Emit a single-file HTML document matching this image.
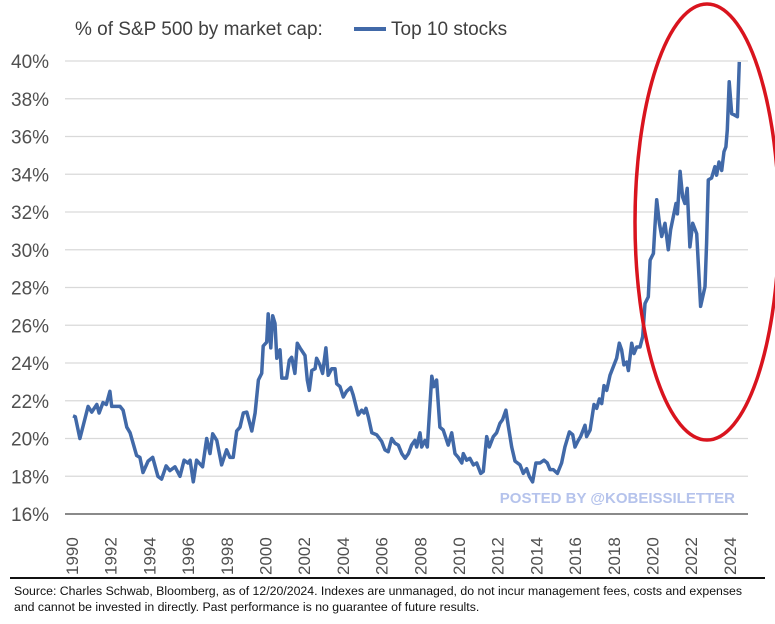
<!DOCTYPE html>
<html><head><meta charset="utf-8"><style>
body{margin:0;background:#fff;width:775px;height:624px;overflow:hidden;font-family:"Liberation Sans",sans-serif}
svg{display:block}
</style></head><body>
<svg id="chart" width="775" height="624">
<text x="75" y="35" font-size="19" fill="#404040">% of S&amp;P 500 by market cap:</text>
<line x1="354" y1="29" x2="386" y2="29" stroke="#4169a8" stroke-width="4"/>
<text x="391" y="35" font-size="19" fill="#404040">Top 10 stocks</text>
<g id="grid"></g><g id="ylabels"></g><g id="xlabels"></g>
<path id="series" fill="none" stroke="#4169a8" stroke-width="3.5" stroke-linejoin="round"/>
<ellipse cx="707" cy="222" rx="72" ry="218" fill="none" stroke="#d9141e" stroke-width="3.5"/>
<text x="735" y="503" text-anchor="end" font-size="15" font-weight="bold" fill="#b5c3ec">POSTED BY @KOBEISSILETTER</text>
<line x1="10" y1="578" x2="765" y2="578" stroke="#111" stroke-width="2"/>
<text x="14" y="595" font-size="12.3" fill="#111">Source: Charles Schwab, Bloomberg, as of 12/20/2024.  Indexes are unmanaged, do not incur management fees, costs and expenses</text>
<text x="14" y="611" font-size="12.3" fill="#111">and cannot be invested in directly. Past performance is no guarantee of future results.</text>
</svg>
<script>
const yTicks=[16,18,20,22,24,26,28,30,32,34,36,38,40];
const xTicks=[1990,1992,1994,1996,1998,2000,2002,2004,2006,2008,2010,2012,2014,2016,2018,2020,2022,2024];
const dates=[1990.05,1990.17,1990.41,1990.83,1991.02,1991.28,1991.40,1991.60,1991.77,1991.96,1992.05,1992.48,1992.64,1992.83,1993.00,1993.34,1993.51,1993.67,1993.93,1994.17,1994.44,1994.63,1994.86,1995.06,1995.32,1995.58,1995.79,1995.99,1996.10,1996.27,1996.44,1996.75,1996.96,1997.13,1997.27,1997.48,1997.73,1997.99,1998.16,1998.33,1998.51,1998.68,1998.85,1999.03,1999.29,1999.46,1999.63,1999.80,1999.88,2000.06,2000.14,2000.27,2000.37,2000.49,2000.58,2000.75,2000.84,2001.09,2001.23,2001.35,2001.52,2001.64,2001.78,2002.04,2002.16,2002.26,2002.39,2002.56,2002.64,2002.81,2002.95,2003.12,2003.24,2003.42,2003.59,2003.68,2003.85,2004.02,2004.19,2004.40,2004.53,2004.79,2004.97,2005.09,2005.19,2005.31,2005.49,2005.74,2006.00,2006.17,2006.34,2006.52,2006.69,2006.86,2007.04,2007.21,2007.38,2007.55,2007.72,2007.81,2007.98,2008.07,2008.24,2008.36,2008.59,2008.70,2008.84,2009.01,2009.18,2009.44,2009.62,2009.79,2009.96,2010.14,2010.22,2010.39,2010.56,2010.74,2010.91,2011.12,2011.25,2011.43,2011.56,2011.77,2011.94,2012.11,2012.25,2012.42,2012.54,2012.72,2012.89,2013.15,2013.32,2013.49,2013.63,2013.80,2013.97,2014.18,2014.39,2014.56,2014.70,2014.87,2015.08,2015.30,2015.47,2015.70,2015.87,2015.99,2016.16,2016.28,2016.51,2016.59,2016.77,2016.97,2017.11,2017.25,2017.37,2017.49,2017.63,2017.80,2017.97,2018.14,2018.28,2018.40,2018.52,2018.66,2018.75,2018.92,2019.04,2019.18,2019.35,2019.49,2019.61,2019.78,2019.87,2020.04,2020.12,2020.21,2020.35,2020.47,2020.64,2020.81,2020.93,2021.07,2021.21,2021.28,2021.42,2021.55,2021.67,2021.79,2021.93,2022.07,2022.28,2022.48,2022.71,2022.79,2022.88,2023.05,2023.22,2023.31,2023.43,2023.57,2023.69,2023.79,2023.86,2023.96,2024.09,2024.21,2024.38,2024.48];
const values=[21.2,21.15,20.0,21.7,21.4,21.8,21.35,21.9,21.8,22.5,21.7,21.7,21.5,20.6,20.3,19.1,19.0,18.2,18.8,19.0,18.0,17.85,18.55,18.3,18.5,18.0,18.85,18.7,18.85,17.7,18.85,18.5,20.0,19.2,20.25,19.9,18.6,19.4,19.0,19.0,20.4,20.6,21.35,21.4,20.4,21.35,23.1,23.45,24.9,25.1,26.6,24.8,26.5,26.1,24.25,24.7,23.2,23.2,24.15,24.3,23.45,25.05,24.8,24.4,23.1,22.55,23.6,23.7,24.25,23.9,23.45,24.8,23.35,23.7,23.7,22.9,22.75,22.2,22.5,22.7,22.3,21.25,21.5,21.35,21.6,21.15,20.3,20.2,19.85,19.4,19.3,20.0,19.75,19.65,19.2,18.95,19.2,19.65,19.9,19.55,20.3,19.55,19.9,19.55,23.3,22.75,23.1,20.6,20.45,19.65,20.3,19.2,19.0,18.7,19.2,18.85,18.95,18.6,18.7,18.15,18.25,20.1,19.55,20.1,20.3,20.8,21.0,21.5,20.7,19.55,18.8,18.6,18.15,18.4,18.0,17.7,18.7,18.7,18.85,18.7,18.35,18.35,18.15,18.7,19.55,20.35,20.2,19.55,19.9,20.1,20.7,20.1,20.45,21.8,21.6,22.1,21.85,22.8,22.55,23.35,23.8,24.25,25.05,24.7,23.9,24.05,23.6,25.05,24.5,24.85,24.85,25.4,27.15,27.5,29.45,29.8,31.2,32.65,31.4,30.7,31.4,30.0,31.05,31.75,32.45,31.9,34.15,32.8,32.45,33.25,30.15,31.4,30.85,27.0,28.05,30.35,33.7,33.8,34.4,33.95,34.65,34.2,35.2,35.45,36.35,38.9,37.2,37.15,37.05,39.95];
const X=t=>72+(t-1990)*19.353;
const Y=v=>514-(v-16)*18.875;
const NS='http://www.w3.org/2000/svg';
const grid=document.getElementById('grid'),yl=document.getElementById('ylabels'),xl=document.getElementById('xlabels');
yTicks.forEach(v=>{
 const l=document.createElementNS(NS,'line');
 l.setAttribute('x1',65);l.setAttribute('x2',748);l.setAttribute('y1',Y(v));l.setAttribute('y2',Y(v));
 l.setAttribute('stroke',v===16?'#8a8a8a':'#d9d9d9');l.setAttribute('stroke-width',v===16?2:1.3);
 
 
 grid.appendChild(l);
 const t=document.createElementNS(NS,'text');
 t.setAttribute('x',11);t.setAttribute('y',Y(v)+7);t.setAttribute('font-size',19);t.setAttribute('fill','#505050');
 t.textContent=v+'%';
 
 
 yl.appendChild(t);
});
xTicks.forEach((yr,i)=>{
 const x=72+i*38.7+6;
 const t=document.createElementNS(NS,'text');
 t.setAttribute('transform','translate('+x+',575) rotate(-90)');
 t.setAttribute('font-size',17);t.setAttribute('fill','#505050');
 t.textContent=yr;
 
 
 xl.appendChild(t);
});
document.getElementById('series').setAttribute('d',dates.map((d,i)=>(i?'L':'M')+X(d).toFixed(1)+','+Y(values[i]).toFixed(1)).join(''));
</script>
</body></html>
